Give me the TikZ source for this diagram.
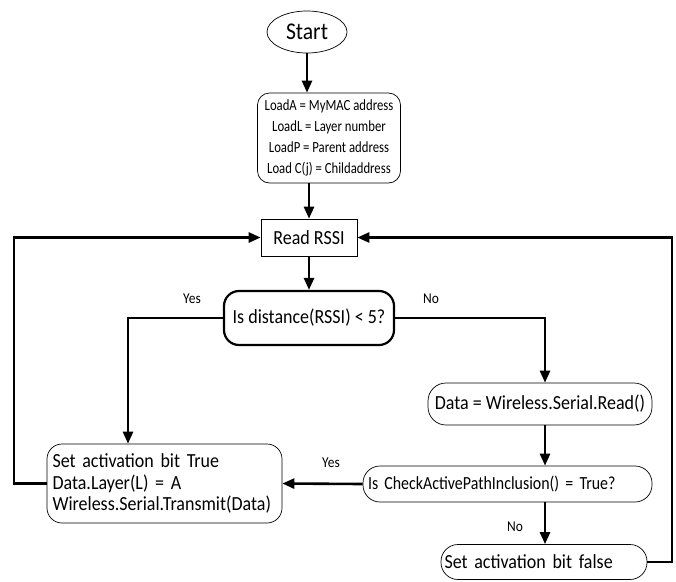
\documentclass[tikz,border=0pt]{standalone}
\usepackage{fontspec}
\setmainfont[FakeStretch=0.9]{Carlito}
\newfontfamily\initfont[FakeStretch=0.82]{Carlito}
\newfontfamily\narrowfont[FakeStretch=0.86]{Carlito}
\usetikzlibrary{arrows.meta,shapes.geometric}
\begin{document}
\begin{tikzpicture}[x=1pt,y=-1pt,
  every node/.style={font=\fontsize{20}{21.5}\selectfont, inner sep=0pt},
  rbox/.style={draw, line width=0.7pt, rounded corners=12pt},
  conn/.style={line width=2.6pt, -{Triangle[length=12pt,width=10pt]}},
  lbl/.style={font=\fontsize{15}{16}\selectfont}]
\useasboundingbox (0,0) rectangle (676,581);
\node[draw, ellipse, line width=0.7pt, minimum width=80pt, minimum height=42pt] (start) at (307,32) {\fontsize{24}{26}\selectfont Start};
\node[rbox, minimum width=143pt, minimum height=90pt, align=center, font=\initfont\fontsize{15.5}{21}\selectfont] (init) at (329,138)
  {LoadA = MyMAC address\\LoadL = Layer number\\LoadP = Parent address\\Load C(j) = Childaddress};
\node[draw, line width=0.7pt, minimum width=96pt, minimum height=37pt] (read) at (309,237.5) {Read RSSI};
\node[draw, line width=2.2pt, rounded corners=15pt, minimum width=170pt, minimum height=54pt] (dec1) at (309,318) {Is distance(RSSI) < 5?};
\node[rbox, rounded corners=18pt, minimum width=224pt, minimum height=42pt] (data) at (540,404) {Data = Wireless.Serial.Read()};
\node[rbox, rounded corners=17pt, minimum width=289pt, minimum height=36pt, align=left, text width=279pt, font=\narrowfont\fontsize{18.5}{20}\selectfont] (dec2) at (507.5,484) {Is CheckActivePathInclusion() = True?};
\node[rbox, rounded corners=17pt, minimum width=206pt, minimum height=35pt, align=left, text width=199pt] (sfalse) at (544,562) {Set activation bit false};
\node[rbox, rounded corners=15pt, minimum width=235pt, minimum height=79pt, align=left, text width=224pt] (strue) at (164.5,483.5)
  {Set activation bit True\\Data.Layer(L) = A\\Wireless.Serial.Transmit(Data)};
\coordinate (colx) at (545,0);
\coordinate (leftx) at (14,0);
\coordinate (rightx) at (672,0);
\coordinate (yesx) at (128,0);
\draw[conn] (start.south) -- (start.south |- init.north);
\draw[conn] (read.north |- init.south) -- (read.north);
\draw[conn] (read.south) -- (dec1.north);
\draw[conn] (dec1.west) -- (yesx |- dec1.west) -- (yesx |- strue.north);
\draw[conn] (dec1.east) -- (colx |- dec1.east) -- (colx |- data.north);
\draw[conn] (colx |- data.south) -- (colx |- dec2.north);
\draw[conn] (colx |- dec2.south) -- (colx |- sfalse.north);
\draw[conn] (dec2.west) -- (strue.east);
\draw[conn] (strue.west) -- (leftx |- strue.west) -- (leftx |- read.west) -- (read.west);
\draw[conn] (sfalse.east) -- (rightx |- sfalse.east) -- (rightx |- read.east) -- (read.east);
\node[lbl] (yes1) at (192,299) {Yes};
\node[lbl] (no1) at (431,299) {No};
\node[lbl] (yes2) at (331,463) {Yes};
\node[lbl] (no2) at (515,527) {No};
\end{tikzpicture}
\end{document}
